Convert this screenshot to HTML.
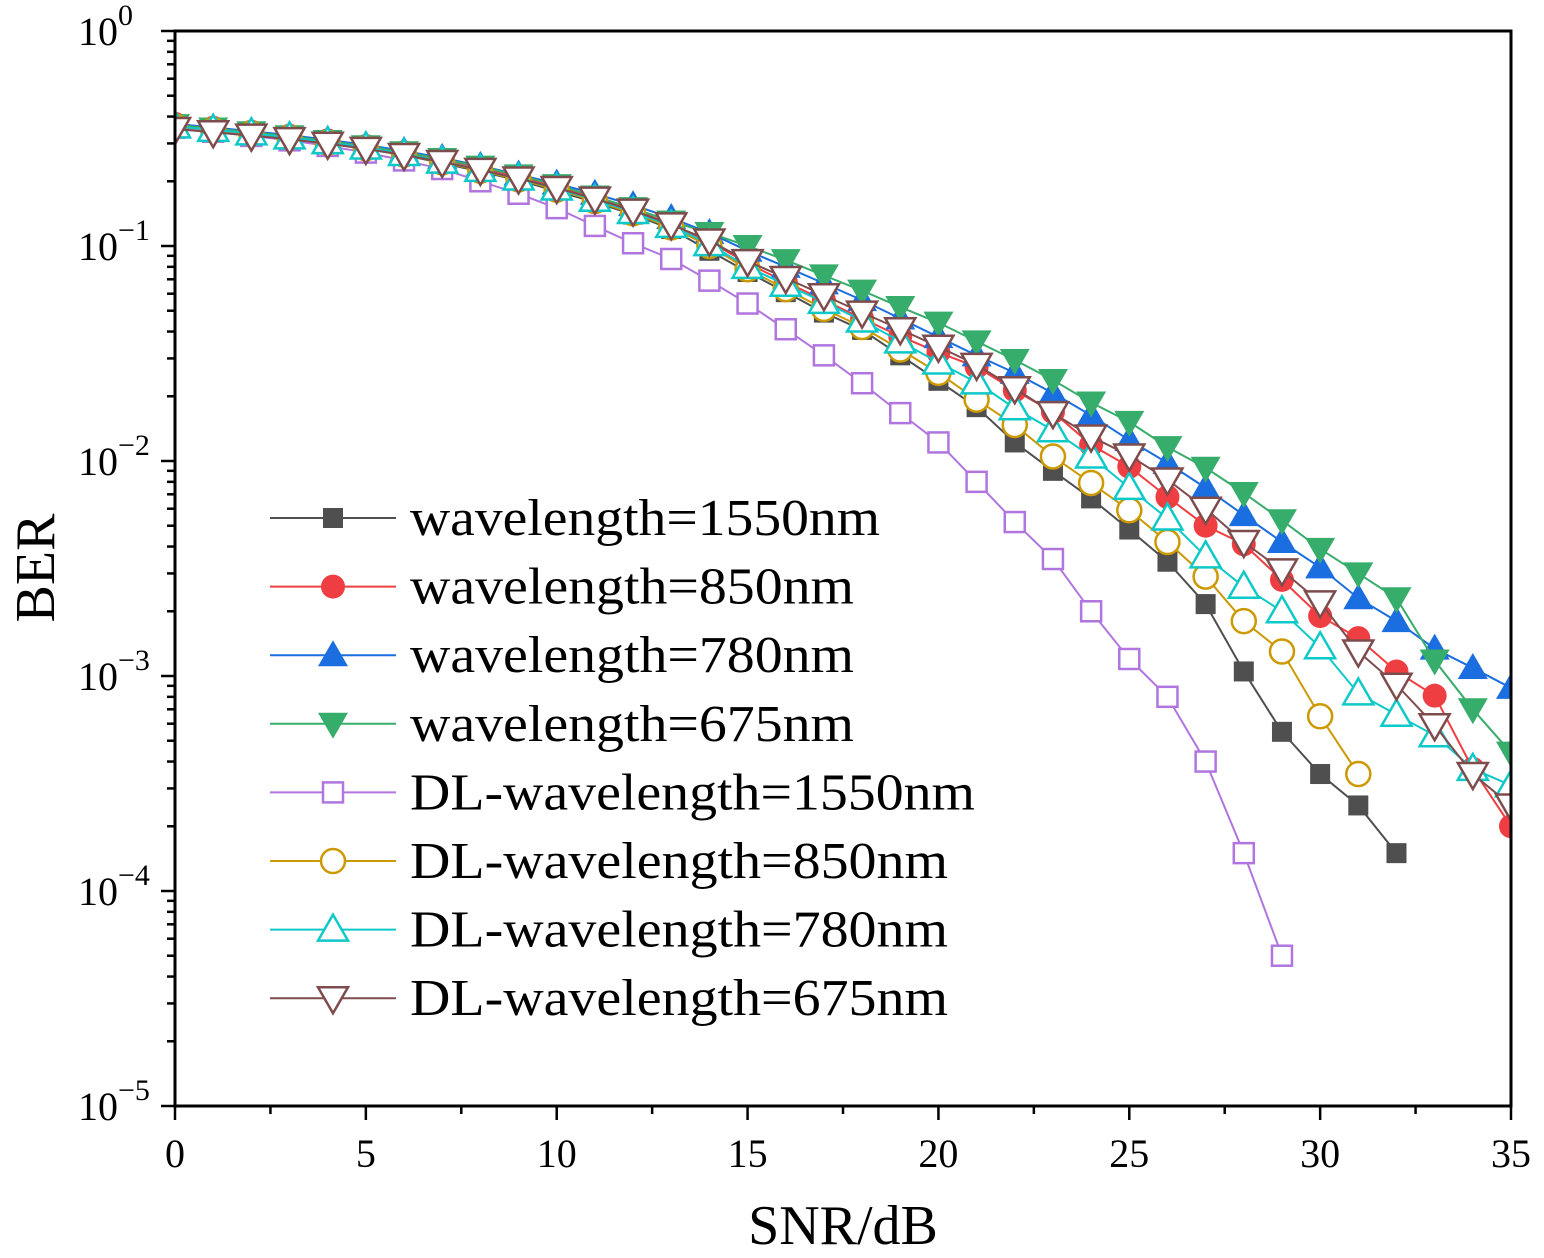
<!DOCTYPE html>
<html><head><meta charset="utf-8">
<style>
html,body{margin:0;padding:0;background:#fff;}
svg{display:block;font-family:"Liberation Serif",serif;}
</style></head>
<body>
<svg id="chart" width="1544" height="1258" viewBox="0 0 1544 1258" xmlns="http://www.w3.org/2000/svg"></svg>
<script>
const snr = [0,1,2,3,4,5,6,7,8,9,10,11,12,13,14,15,16,17,18,19,20,21,22,23,24,25,26,27,28,29,30,31,32,33,34,35];
const berWl1550 = [0.36,0.345,0.332,0.318,0.301,0.283,0.265,0.243,0.222,0.202,0.18,0.16,0.14,0.12,0.095,0.0757,0.061,0.049,0.0407,0.031,0.0236,0.0178,0.0122,0.009,0.0067,0.0048,0.0034,0.00216,0.00105,0.00055,0.00035,0.00025,0.00015];
const berWl850 = [0.37,0.355,0.34,0.326,0.31,0.292,0.273,0.252,0.231,0.21,0.19,0.168,0.148,0.126,0.105,0.083,0.068,0.056,0.046,0.038,0.032,0.0274,0.0213,0.0169,0.0119,0.0094,0.0068,0.005,0.0041,0.0028,0.0019,0.0015,0.00105,0.00081,0.00037,0.0002];
const berWl780 = [0.37,0.356,0.342,0.328,0.312,0.295,0.277,0.257,0.236,0.215,0.195,0.175,0.155,0.135,0.115,0.095,0.08,0.067,0.056,0.046,0.0377,0.031,0.0257,0.0207,0.0163,0.0125,0.0098,0.0075,0.0056,0.0042,0.0032,0.0023,0.0018,0.00134,0.00109,0.00088];
const berWl675 = [0.365,0.352,0.338,0.324,0.308,0.291,0.273,0.254,0.234,0.213,0.192,0.17,0.15,0.13,0.115,0.1,0.086,0.073,0.062,0.052,0.044,0.036,0.0295,0.0238,0.0187,0.0152,0.0116,0.0093,0.0071,0.0053,0.0039,0.003,0.0023,0.00118,0.0007,0.00044];
const berDl1550 = [0.355,0.34,0.325,0.31,0.292,0.272,0.25,0.228,0.2,0.175,0.15,0.124,0.103,0.087,0.069,0.054,0.041,0.031,0.023,0.0167,0.0122,0.008,0.0052,0.0035,0.002,0.0012,0.0008,0.0004,0.00015,0.00005];
const berDl850 = [0.36,0.346,0.333,0.319,0.302,0.285,0.266,0.245,0.224,0.204,0.183,0.162,0.142,0.122,0.1,0.078,0.063,0.051,0.042,0.033,0.0257,0.0193,0.0147,0.0105,0.0079,0.0059,0.0042,0.0029,0.0018,0.0013,0.00065,0.00035];
const berDl780 = [0.36,0.347,0.334,0.32,0.304,0.287,0.268,0.247,0.226,0.206,0.185,0.164,0.144,0.124,0.102,0.08,0.066,0.055,0.045,0.036,0.0287,0.0232,0.0176,0.0139,0.0105,0.0075,0.0054,0.0036,0.0026,0.002,0.00136,0.00083,0.00066,0.00053,0.00037,0.00031];
const berDl675 = [0.35,0.338,0.326,0.314,0.299,0.283,0.265,0.246,0.226,0.206,0.186,0.166,0.146,0.126,0.106,0.085,0.071,0.059,0.049,0.041,0.034,0.028,0.0218,0.0167,0.013,0.0106,0.0082,0.006,0.0042,0.0031,0.0022,0.0013,0.00091,0.00059,0.00035,0.00025];
const seriesLabels = ["wavelength=1550nm","wavelength=850nm","wavelength=780nm","wavelength=675nm","DL-wavelength=1550nm","DL-wavelength=850nm","DL-wavelength=780nm","DL-wavelength=675nm"];
const xTicks = [0,5,10,15,20,25,30,35];
const yExponents = [0,-1,-2,-3,-4,-5];

const NS="http://www.w3.org/2000/svg";
const svg=document.getElementById('chart');
const X0=175,X1=1511,Y0=31,Y1=1106;
const xs=v=>X0+(v-0)/(35-0)*(X1-X0);
const ys=v=>Y0+(-Math.log10(v))/5*(Y1-Y0);
function mk(tag,attrs,parent){const e=document.createElementNS(NS,tag);for(const k in attrs)e.setAttribute(k,attrs[k]);(parent||svg).appendChild(e);return e;}

const styles=[
 {c:"#4f4f4f",m:"square",f:true},{c:"#ef3e42",m:"circle",f:true},{c:"#1a6edf",m:"up",f:true},{c:"#37ad6b",m:"down",f:true},
 {c:"#b075de",m:"square",f:false},{c:"#cc9900",m:"circle",f:false},{c:"#0fc8c8",m:"up",f:false},{c:"#7e4c4c",m:"down",f:false}];
const data=[berWl1550,berWl850,berWl780,berWl675,berDl1550,berDl850,berDl780,berDl675];
const legendWidths=[470,444,444,444,565,538,538,538];

function marker(g,type,x,y,col,filled){
 const fill=filled?col:"#fff";const sw=filled?0:2.5;let e;
 if(type==="square")e=mk('rect',{x:x-10,y:y-10,width:20,height:20,fill:fill,stroke:col,'stroke-width':sw},g);
 else if(type==="circle")e=mk('circle',{cx:x,cy:y,r:12,fill:fill,stroke:col,'stroke-width':sw},g);
 else if(type==="up")e=mk('polygon',{points:`${x-15},${y+11} ${x+15},${y+11} ${x},${y-15}`,fill:fill,stroke:col,'stroke-width':sw},g);
 else e=mk('polygon',{points:`${x-15},${y-11} ${x+15},${y-11} ${x},${y+15}`,fill:fill,stroke:col,'stroke-width':sw},g);
 return e;
}

const defs=mk('defs',{});const cp=mk('clipPath',{id:'pc'},defs);mk('rect',{x:X0,y:Y0,width:X1-X0,height:Y1-Y0},cp);

const plot=mk('g',{'clip-path':'url(#pc)'});


data.forEach((arr,i)=>{
 const st=styles[i];
 const g=mk('g',{},plot);
 
 
 const pts=arr.map((v,j)=>xs(snr[j])+','+ys(v)).join(' ');
 const pl=mk('polyline',{points:pts,fill:'none',stroke:st.c,'stroke-width':2},g);
 
 
 arr.forEach((v,j)=>{const m=marker(g,st.m,xs(snr[j]),ys(v),st.c,st.f);
  
  });
});

const frame=mk('rect',{x:X0,y:Y0,width:X1-X0,height:Y1-Y0,fill:'none',stroke:'#000','stroke-width':3});



const xa=mk('g',{});


for(let v=0;v<=35;v+=2.5){const maj=v%5===0;mk('line',{x1:xs(v),x2:xs(v),y1:Y1,y2:Y1+(maj?14:8),stroke:'#000','stroke-width':2.5},xa);}
xTicks.forEach(v=>{const t=mk('text',{x:xs(v),y:1167,'text-anchor':'middle','font-size':40},xa);t.textContent=v;
 
 });
const xt=mk('text',{x:843,y:1244,'text-anchor':'middle','font-size':56});xt.textContent='SNR/dB';



const ya=mk('g',{});


for(let d=0;d<5;d++){for(let k=2;k<=9;k++){const v=Math.pow(10,-d-1)*k;mk('line',{x1:X0,x2:X0-8,y1:ys(v),y2:ys(v),stroke:'#000','stroke-width':2.5},ya);}}
yExponents.forEach(e=>{const y=ys(Math.pow(10,e));mk('line',{x1:X0,x2:X0-14,y1:y,y2:y,stroke:'#000','stroke-width':2.5},ya);
 const t=mk('text',{x:78,y:y+14,'font-size':40},ya);
 
 
 const a=mk('tspan',{},t);a.textContent='10';
 const b=mk('tspan',{dy:-20,'font-size':30},t);b.textContent=e===0?'0':'\u2212'+(-e);});
const yt=mk('text',{x:0,y:0,'text-anchor':'middle','font-size':56,transform:'translate(54,568) rotate(-90)'});yt.textContent='BER';



const lg=mk('g',{});


seriesLabels.forEach((lab,i)=>{const st=styles[i];const y=518+i*68.6;
 const e=mk('g',{},lg);
 
 
 mk('line',{x1:270,x2:396,y1:y,y2:y,stroke:st.c,'stroke-width':2},e);
 marker(e,st.m,333,y,st.c,st.f);
 const t=mk('text',{x:410,y:y+17,'font-size':52,textLength:legendWidths[i],lengthAdjust:'spacingAndGlyphs'},e);t.textContent=lab;});
</script>
</body></html>
